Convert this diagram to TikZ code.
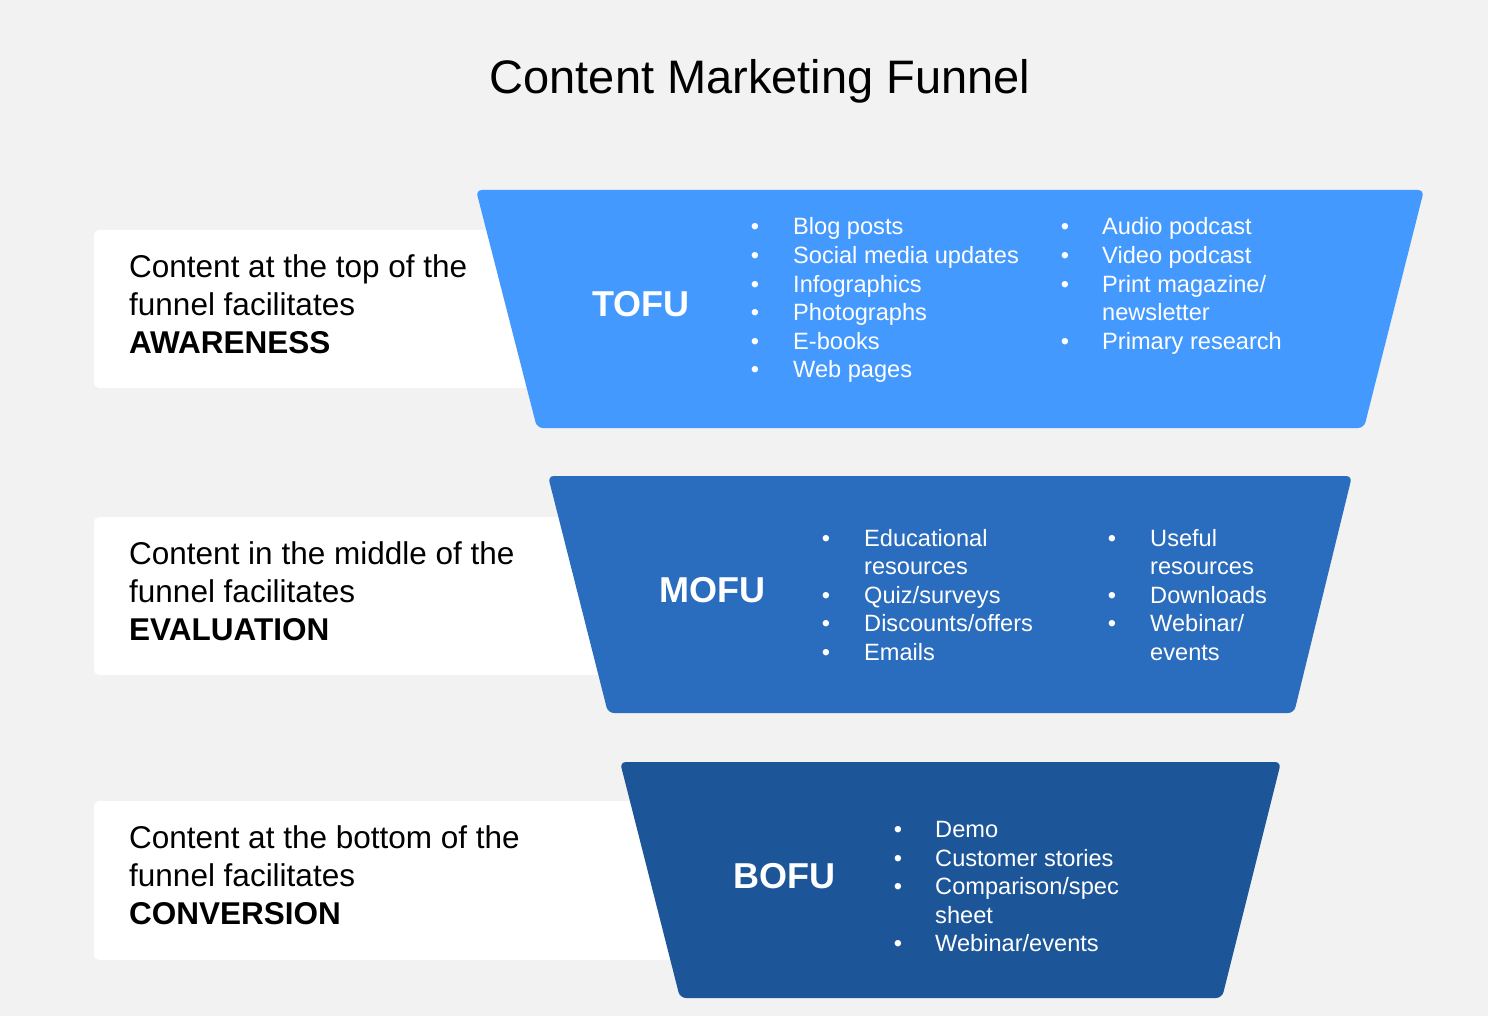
\documentclass[tikz,border=0pt]{standalone}
\usepackage{fontspec}
\setmainfont{Liberation Sans}
\definecolor{bgc}{HTML}{F2F2F2}
\definecolor{tofuc}{HTML}{4499FF}
\definecolor{mofuc}{HTML}{2A6CBD}
\definecolor{bofuc}{HTML}{1C5699}
\begin{document}
\begin{tikzpicture}[x=1pt,y=-1pt,
  sidebox/.style={fill=white,rounded corners=5pt},
  stage/.style={rounded corners=6pt},
  lefttext/.style={anchor=base west,inner sep=0pt,font=\fontsize{31.5}{38}\selectfont,text=black},
  leftbold/.style={lefttext,font=\fontsize{31.5}{38}\selectfont\bfseries},
  stagelabel/.style={inner sep=0pt,text=white,font=\fontsize{36}{40}\selectfont\bfseries},
  item/.style={anchor=base west,inner sep=0pt,text=white,font=\fontsize{23.6}{28}\selectfont},
  dot/.style={anchor=base,inner sep=0pt,text=white,font=\fontsize{23.6}{28}\selectfont}]
\fill[bgc] (0,0) rectangle (1488,1016);
\useasboundingbox (0,0) rectangle (1488,1016);

\node[anchor=base,inner sep=0pt,font=\fontsize{47}{56}\selectfont] (title) at (760,94) {Content Marketing Funnel};

% side boxes
\fill[sidebox] (94,230) rectangle (640,388);
\fill[sidebox] (94,517) rectangle (700,675);
\fill[sidebox] (94,801) rectangle (760,960);

% funnel stages
\fill[stage,tofuc] (476,190) -- (1424,190) -- (1364,428) -- (537,428) -- cycle;
\fill[stage,mofuc] (548,476) -- (1352,476) -- (1294,713) -- (608,713) -- cycle;
\fill[stage,bofuc] (620,762) -- (1281,762) -- (1222,998) -- (680,998) -- cycle;

% left texts
\node[lefttext] (t1a) at (129,277) {Content at the top of the};
\node[lefttext] (t1b) at (129,315) {funnel facilitates};
\node[leftbold] (t1c) at (129,353) {AWARENESS};
\node[lefttext] (t2a) at (129,564) {Content in the middle of the};
\node[lefttext] (t2b) at (129,602) {funnel facilitates};
\node[leftbold] (t2c) at (129,640) {EVALUATION};
\node[lefttext] (t3a) at (129,848) {Content at the bottom of the};
\node[lefttext] (t3b) at (129,886) {funnel facilitates};
\node[leftbold] (t3c) at (129,924) {CONVERSION};

% stage labels
\node[stagelabel] (tofu) at (641,304) {TOFU};
\node[stagelabel] (mofu) at (712,590) {MOFU};
\node[stagelabel] (bofu) at (784,876) {BOFU};

% TOFU list
\node[dot] (ta1) at (755,235) {•}; \node[item] (tb1) at (793,235) {Blog posts};
\node[dot] (ta2) at (755,263.5) {•}; \node[item] (tb2) at (793,263.5) {Social media updates};
\node[dot] (ta3) at (755,292) {•}; \node[item] (tb3) at (793,292) {Infographics};
\node[dot] (ta4) at (755,320.5) {•}; \node[item] (tb4) at (793,320.5) {Photographs};
\node[dot] (ta5) at (755,349) {•}; \node[item] (tb5) at (793,349) {E-books};
\node[dot] (ta6) at (755,377.5) {•}; \node[item] (tb6) at (793,377.5) {Web pages};
\node[dot] (tc1) at (1065,235) {•}; \node[item] (td1) at (1102,235) {Audio podcast};
\node[dot] (tc2) at (1065,263.5) {•}; \node[item] (td2) at (1102,263.5) {Video podcast};
\node[dot] (tc3) at (1065,292) {•}; \node[item] (td3) at (1102,292) {Print magazine/};
\node[item] (td4) at (1102,320.5) {newsletter};
\node[dot] (tc5) at (1065,349) {•}; \node[item] (td5) at (1102,349) {Primary research};

% MOFU list
\node[dot] (ma1) at (826,546) {•}; \node[item] (mb1) at (864,546) {Educational};
\node[item] (mb2) at (864,574.5) {resources};
\node[dot] (ma3) at (826,603) {•}; \node[item] (mb3) at (864,603) {Quiz/surveys};
\node[dot] (ma4) at (826,631.5) {•}; \node[item] (mb4) at (864,631.5) {Discounts/offers};
\node[dot] (ma5) at (826,660) {•}; \node[item] (mb5) at (864,660) {Emails};
\node[dot] (mc1) at (1112,546) {•}; \node[item] (md1) at (1150,546) {Useful};
\node[item] (md2) at (1150,574.5) {resources};
\node[dot] (mc3) at (1112,603) {•}; \node[item] (md3) at (1150,603) {Downloads};
\node[dot] (mc4) at (1112,631.5) {•}; \node[item] (md4) at (1150,631.5) {Webinar/};
\node[item] (md5) at (1150,660) {events};

% BOFU list
\node[dot] (ba1) at (898,837.5) {•}; \node[item] (bb1) at (935,837.5) {Demo};
\node[dot] (ba2) at (898,866) {•}; \node[item] (bb2) at (935,866) {Customer stories};
\node[dot] (ba3) at (898,894.5) {•}; \node[item] (bb3) at (935,894.5) {Comparison/spec};
\node[item] (bb4) at (935,923) {sheet};
\node[dot] (ba5) at (898,951.5) {•}; \node[item] (bb5) at (935,951.5) {Webinar/events};
\end{tikzpicture}
\end{document}
